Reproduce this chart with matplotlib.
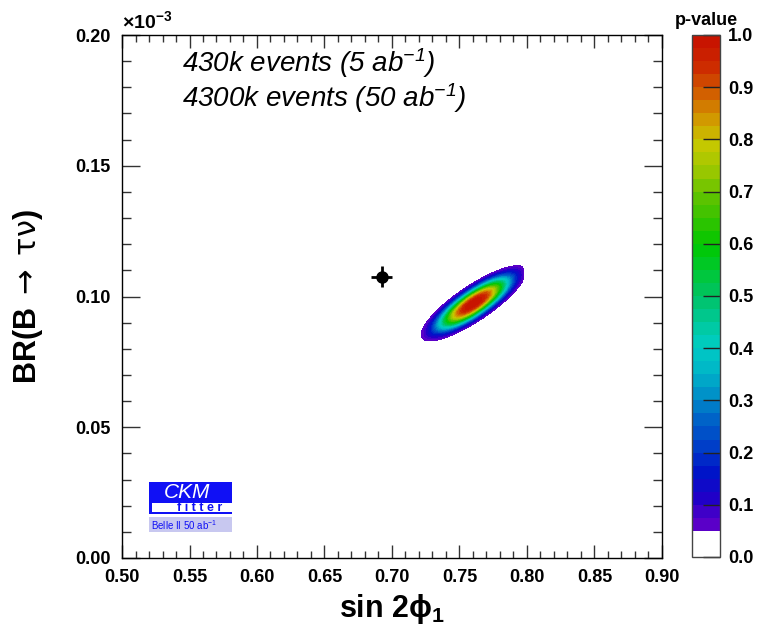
import numpy as np
import matplotlib
matplotlib.use('Agg')
import matplotlib.pyplot as plt
from matplotlib.colors import LinearSegmentedColormap, ListedColormap
from matplotlib.patches import Rectangle
from matplotlib.ticker import MultipleLocator, FormatStrFormatter

plt.rcParams['font.family'] = ['Liberation Sans', 'DejaVu Sans']
plt.rcParams['mathtext.fontset'] = 'custom'
plt.rcParams['mathtext.rm'] = 'Liberation Sans'
plt.rcParams['mathtext.it'] = 'Liberation Sans:italic'
plt.rcParams['mathtext.bf'] = 'Liberation Sans:bold'
plt.rcParams['mathtext.sf'] = 'DejaVu Sans'
plt.rcParams['mathtext.default'] = 'regular'

# Belle II 50 ab^-1 projection in the (sin 2phi1, BR) plane.
# BR values are in units of 1e-3.
FIT_CENTER = (0.7605, 0.0974)
FIT_SIGMA = (0.0195, 0.00723)
FIT_RHO = 0.835
PROFILE_POWER = 2.6          # tail shape of the likelihood profile
SCAN_X = (0.722, 0.797)      # sin 2phi1 range covered by the scan

# current measurement point
MEAS_X, MEAS_XERR = 0.6924, 0.0079
MEAS_Y, MEAS_YERR = 0.1076, 0.0040

X_RANGE = (0.50, 0.90)
Y_RANGE = (0.00, 0.20)
N_LEVELS = 40

# palette anchors (p-value -> rgb)
PAL_POS = [0.05, 0.10, 0.15, 0.20, 0.25, 0.30, 0.35, 0.40, 0.45, 0.50,
           0.55, 0.60, 0.65, 0.70, 0.75, 0.80, 0.85, 0.90, 0.95, 1.00]
PAL_RGB = [(90, 0, 200), (30, 0, 200), (0, 20, 200), (0, 60, 200),
           (0, 95, 200), (0, 140, 200), (0, 180, 200), (0, 205, 195),
           (0, 200, 150), (0, 195, 100), (0, 200, 50), (0, 200, 0),
           (50, 195, 0), (100, 195, 0), (160, 200, 0), (200, 200, 0),
           (210, 150, 0), (210, 95, 0), (205, 45, 0), (200, 20, 0)]


def pvalue_map(xx, yy):
    dx = (xx - FIT_CENTER[0]) / FIT_SIGMA[0]
    dy = (yy - FIT_CENTER[1]) / FIT_SIGMA[1]
    chi2 = (dx**2 - 2 * FIT_RHO * dx * dy + dy**2) / (1 - FIT_RHO**2)
    p = np.exp(-0.5 * chi2 ** (PROFILE_POWER / 2.0))
    p[(xx < SCAN_X[0]) | (xx > SCAN_X[1])] = 0.0
    return p


def build_cmap():
    pos = (np.array(PAL_POS) - PAL_POS[0]) / (PAL_POS[-1] - PAL_POS[0])
    rgb = np.array(PAL_RGB) / 255.0
    smooth = LinearSegmentedColormap.from_list('ckm', list(zip(pos, rgb)))
    n_white = int(round(0.05 * N_LEVELS))
    cols = [(1, 1, 1)] * n_white + [smooth(v) for v in
                                    np.linspace(0, 1, N_LEVELS - n_white)]
    return ListedColormap(cols)


def draw_logo(ax):
    tr = ax.transAxes
    blue = '#1010f5'
    ax.add_patch(Rectangle((0.05, 0.0841), 0.1537, 0.0612, color=blue,
                           transform=tr, zorder=5, lw=0))
    ax.add_patch(Rectangle((0.0556, 0.0880), 0.1481, 0.0172, color='white',
                           transform=tr, zorder=6, lw=0))
    ax.add_patch(Rectangle((0.05, 0.0497), 0.1537, 0.0287, color='#c8c8f0',
                           transform=tr, zorder=5, lw=0))
    ax.text(0.121, 0.1255, 'CKM', color='white', style='italic',
            fontsize=15, ha='center', va='center', transform=tr, zorder=7)
    ax.text(0.143, 0.0962, 'f i t t e r', color=blue, weight='bold',
            fontsize=9, ha='center', va='center', transform=tr, zorder=7)
    ax.text(0.054, 0.0635, r'Belle II 50 ab$^{-1}$', color=blue,
            fontsize=7, ha='left', va='center', transform=tr, zorder=7)


def main():
    fig = plt.figure(figsize=(7.63, 6.31), dpi=100)
    ax = fig.add_axes([0.1599, 0.1157, 0.7077, 0.8288])
    cax = fig.add_axes([0.9069, 0.1173, 0.0367, 0.8273])

    xs = np.linspace(*X_RANGE, 1201)
    ys = np.linspace(*Y_RANGE, 1201)
    xx, yy = np.meshgrid(xs, ys)
    pv = pvalue_map(xx, yy)

    levels = np.linspace(0, 1, N_LEVELS + 1)
    cf = ax.contourf(xx, yy, pv, levels=levels, cmap=build_cmap(),
                     vmin=0, vmax=1)

    ax.errorbar(MEAS_X, MEAS_Y, xerr=MEAS_XERR, yerr=MEAS_YERR, fmt='o',
                color='black', ms=8, elinewidth=2, capsize=0, zorder=10)

    ax.set_xlim(*X_RANGE)
    ax.set_ylim(*Y_RANGE)
    ax.xaxis.set_major_locator(MultipleLocator(0.05))
    ax.xaxis.set_minor_locator(MultipleLocator(0.01))
    ax.yaxis.set_major_locator(MultipleLocator(0.05))
    ax.yaxis.set_minor_locator(MultipleLocator(0.01))
    ax.xaxis.set_major_formatter(FormatStrFormatter('%.2f'))
    ax.yaxis.set_major_formatter(FormatStrFormatter('%.2f'))
    ax.tick_params(axis='both', which='both', direction='in', top=True,
                   right=True, labelsize=13, width=1, color='#333333')
    ax.tick_params(axis='x', which='major', length=9.5, pad=8)
    ax.tick_params(axis='x', which='minor', length=5)
    ax.tick_params(axis='y', which='major', length=13, pad=8)
    ax.tick_params(axis='y', which='minor', length=6.5)
    for lab in ax.get_xticklabels() + ax.get_yticklabels():
        lab.set_fontweight('bold')
    for sp in ax.spines.values():
        sp.set_linewidth(1)

    ax.set_xlabel(r'sin 2$\phi_{1}$', fontsize=22, weight='bold', labelpad=4)
    ax.set_ylabel(r'BR(B $\mathsf{\rightarrow}$ $\mathsf{\tau\nu}$)',
                  fontsize=22, weight='bold', labelpad=22)

    ax.text(0.0, 1.006, r'$\times$10$^{-3}$', transform=ax.transAxes,
            fontsize=14, weight='bold', ha='left', va='bottom')

    ax.text(0.111, 0.929, r'430k events (5 ab$^{-1}$)', transform=ax.transAxes,
            fontsize=20, style='italic', ha='left', va='baseline')
    ax.text(0.111, 0.862, r'4300k events (50 ab$^{-1}$)',
            transform=ax.transAxes, fontsize=20, style='italic', ha='left',
            va='baseline')

    draw_logo(ax)

    cb = fig.colorbar(cf, cax=cax, ticks=np.arange(0, 1.01, 0.1))
    cb.ax.yaxis.set_major_formatter(FormatStrFormatter('%.1f'))
    cb.ax.tick_params(direction='in', length=12, width=1, labelsize=13,
                      pad=6, color='#222222')
    cb.ax.minorticks_off()
    for lab in cb.ax.get_yticklabels():
        lab.set_fontweight('bold')
    cb.outline.set_linewidth(1)
    cb.outline.set_edgecolor('#444444')
    cax.text(0.5, 1.012, 'p-value', transform=cax.transAxes, fontsize=13,
             weight='bold', ha='center', va='bottom')

    fig.savefig('out.png', dpi=100)


if __name__ == '__main__':
    main()
